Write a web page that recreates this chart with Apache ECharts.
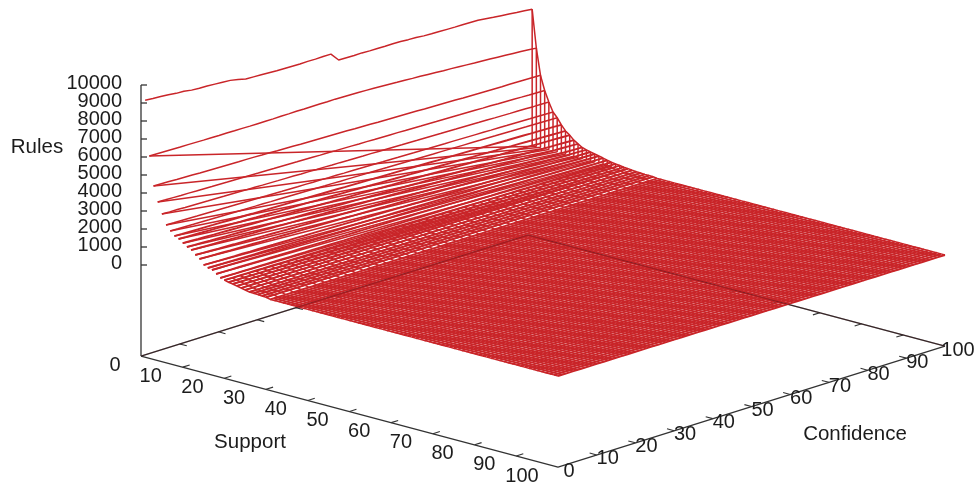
<!DOCTYPE html>
<html>
<head>
<meta charset="utf-8">
<style>html,body{margin:0;padding:0;background:#fff}#chart{width:976px;height:485px}</style>
<script src="https://cdn.jsdelivr.net/npm/echarts@6/dist/echarts.min.js"></script>
</head>
<body>
<div id="chart"></div>
<script>
var supports = [1,2,3,4,5,6,7,8,9,10,11,12,13,14,15,16,17,18,19,20,21,22,23,24,25,26,27,28,29,30,31,32,33,34,35,36,37,38,39,40,41,42,43,44,45,46,47,48,49,50,
  51,52,53,54,55,56,57,58,59,60,61,62,63,64,65,66,67,68,69,70,71,72,73,74,75,76,77,78,79,80,81,82,83,84,85,86,87,88,89,90,91,92,93,94,95,96,97,98,99,100];
var confidences = [0,2,4,6,8,10,12,14,16,18,20,22,24,26,28,30,32,34,36,38,40,42,44,46,48,50,52,54,56,58,60,62,64,66,68,70,72,74,76,78,80,82,84,86,88,90,92,94,96,98,100];
// in-between confidences, only drawn where the surface is flat at 0 rules
var flatConfidences = [1,3,5,7,9,11,13,15,17,19,21,23,25,27,29,31,33,35,37,39,41,43,45,47,49,51,53,55,57,59,61,63,65,67,69,71,73,75,77,79,81,83,85,87,89,91,93,95,97,99];
var zTicks = [0,1000,2000,3000,4000,5000,6000,7000,8000,9000,10000];
var supportTicks = [0,10,20,30,40,50,60,70,80,90,100];
var confidenceTicks = [0,10,20,30,40,50,60,70,80,90,100];
// supports that also show the straight line back down to 0 rules at confidence 100
var dropSupports = [2,3,4,5,6,7,8,9,10,11,12,13,14,15,16,17,18,19,20,21,22,23,24,25,26,27,28,29,30];
var meshFromSupport = 20;

// rules per support (row) and confidence (column).
// above support 30 the surface cannot be told apart from 0
var rules = [
[9220,9180,9150,9120,9060,9040,8970,8940,8930,8900, 8870,8840,8760,8650,8630,8610,8590,8570,8560,8550, 8540,8550,8540,8550,8550,8090,8080,8070,8080,8060, 8060,8050,8050,8040,8010,7990,7950,7930,7920,7910, 7900,7900,7890,7880,7830,7770,7730,7690,7640,7600, 7550],
[6180,6170,6160,6150,6140,6140,6130,6120,6120,6110, 6110,6100,6100,6090,6090,6090,6090,6100,6100,6110, 6100,6110,6110,6100,6110,6100,6090,6080,6060,6040, 6020,6000,5970,5950,5920,5900,5870,5840,5810,5790, 5760,5730,5700,5680,5650,5620,5590,5560,5530,5490, 5450],
[4570,4560,4550,4530,4520,4510,4490,4480,4470,4460, 4450,4440,4440,4430,4410,4400,4380,4370,4360,4340, 4330,4320,4310,4300,4290,4280,4260,4250,4240,4220, 4210,4200,4190,4180,4170,4150,4140,4130,4120,4110, 4090,4080,4070,4060,4050,4040,4040,4030,4020,4010, 4000],
[3745,3732,3722,3708,3702,3688,3680,3668,3662,3648, 3640,3628,3622,3608,3600,3588,3580,3572,3558,3550, 3542,3528,3522,3508,3500,3490,3478,3472,3458,3450, 3440,3432,3418,3410,3400,3392,3378,3370,3362,3348, 3340,3330,3316,3308,3292,3282,3272,3254,3242,3232, 3220],
[3140,3125,3118,3100,3092,3080,3068,3062,3048,3040, 3030,3018,3012,2998,2990,2978,2970,2962,2948,2940, 2930,2922,2910,2902,2890,2882,2870,2865,2850,2842, 2832,2822,2815,2800,2792,2782,2772,2765,2752,2742, 2732,2722,2715,2702,2692,2682,2675,2665,2652,2648, 2640],
[2590,2578,2572,2560,2550,2544,2532,2525,2512,2506, 2498,2488,2480,2470,2465,2452,2445,2434,2428,2418, 2410,2400,2394,2382,2376,2366,2358,2350,2340,2332, 2322,2316,2304,2298,2288,2280,2270,2262,2254,2244, 2236,2228,2218,2212,2200,2194,2184,2176,2170,2160, 2150],
[2320,2310,2304,2292,2285,2275,2268,2258,2250,2240, 2234,2224,2216,2206,2200,2190,2182,2174,2165,2158, 2148,2142,2130,2124,2114,2106,2098,2090,2080,2072, 2064,2056,2048,2040,2030,2024,2014,2006,1998,1990, 1980,1974,1964,1956,1946,1940,1930,1922,1912,1902, 1890],
[2100,2088,2080,2066,2058,2046,2036,2026,2014,2006, 1994,1984,1972,1964,1950,1942,1930,1920,1910,1898, 1888,1878,1866,1856,1846,1834,1824,1814,1802,1792, 1782,1770,1760,1750,1738,1728,1716,1708,1696,1684, 1674,1664,1654,1642,1632,1622,1610,1600,1590,1576, 1560],
[2000,1984,1972,1956,1942,1930,1914,1900,1884,1872, 1856,1842,1830,1812,1800,1784,1770,1758,1740,1728, 1712,1698,1686,1668,1656,1640,1626,1612,1596,1584, 1568,1554,1542,1524,1512,1496,1482,1470,1452,1440, 1424,1410,1398,1380,1368,1352,1338,1324,1310,1296, 1280],
[1830,1816,1800,1788,1770,1758,1742,1728,1716,1698, 1686,1670,1656,1644,1626,1614,1598,1584,1572,1554, 1542,1526,1512,1500,1482,1470,1454,1440,1428,1410, 1398,1382,1368,1356,1338,1326,1310,1296,1284,1266, 1254,1238,1224,1212,1194,1182,1166,1152,1140,1124, 1110],
[1680,1662,1650,1632,1618,1600,1586,1570,1552,1540, 1522,1508,1490,1476,1458,1444,1428,1410,1398,1380, 1366,1348,1334,1316,1302,1286,1268,1256,1238,1224, 1206,1192,1174,1160,1144,1126,1114,1096,1082,1064, 1050,1032,1018,1002,984,972,954,940,922,908, 890],
[1570,1552,1538,1520,1506,1488,1472,1456,1438,1424, 1406,1392,1374,1358,1342,1324,1310,1292,1278,1260, 1244,1228,1210,1196,1178,1164,1146,1130,1114,1096, 1082,1064,1050,1032,1016,1000,982,968,950,936, 918,902,886,868,854,836,822,804,788,770, 750],
[1355,1340,1326,1310,1296,1280,1266,1250,1236,1220, 1206,1192,1176,1162,1146,1132,1116,1102,1086,1072, 1058,1042,1028,1012,998,982,968,952,938,922, 908,894,878,864,848,834,818,804,788,774, 760,744,730,714,700,684,670,654,640,626, 610],
[1195,1182,1168,1156,1142,1130,1116,1104,1090,1078, 1064,1052,1038,1026,1012,1000,986,974,960,948, 934,922,908,896,882,870,856,844,830,818, 804,792,778,766,752,740,726,714,700,688, 674,662,648,636,622,610,596,584,570,556, 540],
[920,912,902,894,884,876,866,858,850,840, 832,822,814,804,796,788,778,770,760,752, 744,734,726,716,708,700,690,682,672,664, 656,646,638,628,620,612,602,594,584,576, 568,558,550,540,532,524,514,506,496,488, 480],
[820,812,804,798,790,782,774,766,758,750, 744,736,728,720,712,704,696,688,680,674, 666,658,650,642,634,626,618,610,604,596, 588,580,572,564,556,548,540,534,526,518, 510,502,494,486,478,470,464,456,448,440, 430],
[770,762,754,748,740,732,724,716,708,700, 694,686,678,670,662,654,646,638,630,624, 616,608,600,592,584,576,568,560,554,546, 538,530,522,514,506,498,490,484,476,468, 460,452,444,436,428,420,414,406,398,390, 380],
[610,604,598,594,588,582,576,570,564,560, 554,548,542,536,530,526,520,514,508,502, 498,492,486,480,474,470,464,458,452,446, 442,436,430,424,418,414,408,402,396,390, 386,380,374,368,362,358,352,346,340,336, 330],
[450,446,442,440,436,432,428,424,422,418, 414,410,408,404,400,396,392,390,386,382, 378,374,372,368,364,360,358,354,350,346, 342,340,336,332,328,324,322,318,314,310, 306,304,300,296,292,288,286,282,278,274, 270],
[390,386,384,380,376,372,370,366,362,360, 356,352,350,346,342,340,336,332,330,326, 322,320,316,312,310,306,302,300,296,292, 288,286,282,278,276,272,268,266,262,258, 256,252,248,246,242,238,234,232,228,224, 220],
[335,332,330,326,324,320,318,314,312,308, 306,302,300,296,294,290,288,286,282,280, 276,274,270,268,264,262,258,256,252,250, 248,244,242,238,236,232,230,226,224,220, 218,214,212,210,206,204,200,198,194,192, 190],
[300,298,294,292,288,286,284,280,278,274, 272,270,266,264,260,258,256,252,250,246, 244,242,238,236,232,230,228,224,222,218, 216,214,210,208,204,202,200,196,194,190, 188,186,182,180,176,174,172,168,166,162, 160],
[250,248,246,242,240,238,236,232,230,228, 226,222,220,218,216,214,210,208,206,204, 200,198,196,194,190,188,186,184,182,178, 176,174,172,168,166,164,162,158,156,154, 152,150,146,144,142,140,138,136,134,132, 130],
[200,198,196,194,192,190,190,188,186,184, 182,180,178,176,174,172,172,170,168,166, 164,162,160,158,156,155,154,152,150,148, 146,144,142,140,138,137,136,134,132,130, 128,126,124,122,120,119,118,116,114,112, 110],
[155,154,152,150,149,148,146,144,143,142, 140,138,137,136,134,132,131,130,128,126, 125,124,122,120,119,118,116,114,113,112, 110,108,107,106,104,102,101,100,98,96, 95,94,92,90,89,88,86,84,83,82, 80],
[105,104,103,102,101,100,100,99,98,97, 96,95,94,93,92,91,91,90,89,88, 87,86,85,84,83,82,82,81,80,79, 78,77,76,75,74,73,73,72,71,70, 69,68,67,66,65,64,64,63,62,61, 60],
[95,94,93,92,91,90,90,89,88,87, 86,85,84,83,82,81,81,80,79,78, 77,76,75,74,73,72,72,71,70,69, 68,67,66,65,64,63,63,62,61,60, 59,58,57,56,55,54,54,53,52,51, 50],
[85,84,83,82,81,80,80,79,78,77, 76,75,74,73,72,71,71,70,69,68, 67,66,65,64,63,62,62,61,60,59, 58,57,56,55,54,53,53,52,51,50, 49,48,47,46,45,44,44,43,42,41, 40],
[70,69,69,68,67,66,66,65,64,64, 63,62,61,61,60,59,59,58,57,56, 56,55,54,54,53,52,51,51,50,49, 49,48,47,46,46,45,44,44,43,42, 41,41,40,39,39,38,37,36,36,35, 35],
[60,59,59,58,58,57,56,56,55,55, 54,53,53,52,52,51,50,50,49,49, 48,47,47,46,46,45,44,44,43,43, 42,41,41,40,40,39,38,38,37,37, 36,35,35,34,34,33,32,32,31,31, 30]
];

var myChart = echarts.init(document.getElementById('chart'));

// gnuplot style view: screen position of a (support, confidence, rules) point
var zBase = -5056;
function project(s, c, z) {
  return [141 + 4.17 * s + 3.87 * c, 265 + 1.11 * s - 1.21 * c - 0.018 * z];
}
function rulesAt(i, j) {
  return rules[i] ? rules[i][j] : 0;
}

var meshColor = '#c92529';
var meshWidth = 1.5;
var axisColor = '#333';
var series = [];

function addLine(points, color, width, z) {
  series.push({
    type: 'line',
    data: points,
    showSymbol: false,
    silent: true,
    animation: false,
    z: z,
    lineStyle: {color: color, width: width}
  });
}

// base frame and rules axis
addLine([project(0, 0, zBase), project(100, 0, zBase), project(100, 100, zBase)], axisColor, 1.3, 1);
addLine([project(0, 0, zBase), project(0, 100, zBase), project(100, 100, zBase)], axisColor, 1.3, 1);
addLine([project(0, 0, 10000), project(0, 0, zBase)], axisColor, 1.3, 1);
zTicks.forEach(function (t) {
  var p = project(0, 0, t);
  addLine([p, [p[0] + 6, p[1]]], axisColor, 1.3, 1);
});
supportTicks.slice(1, 10).forEach(function (t) {
  addLine([project(t, 0, zBase), project(t, 1.8, zBase)], axisColor, 1.1, 1);
  addLine([project(t, 100, zBase), project(t, 98.2, zBase)], axisColor, 1.1, 1);
});
confidenceTicks.slice(1, 10).forEach(function (t) {
  addLine([project(100, t, zBase), project(98.3, t, zBase)], axisColor, 1.1, 1);
  addLine([project(0, t, zBase), project(1.7, t, zBase)], axisColor, 1.1, 1);
});

// rows of the surface, heavier where they bunch together
supports.forEach(function (s, i) {
  addLine(confidences.map(function (c, j) {
    return project(s, c, rulesAt(i, j));
  }), meshColor, s >= 8 ? 1.9 : meshWidth, 2);
});
// drop at confidence 100 and the straight line back to the start of the row
dropSupports.forEach(function (s) {
  var i = supports.indexOf(s);
  addLine([
    project(s, 100, rules[i][confidences.length - 1]),
    project(s, 100, 0),
    project(s, 0, rules[i][0])
  ], meshColor, meshWidth, 2);
});
addLine([project(1, 100, rules[0][confidences.length - 1]), project(1, 100, 0)], meshColor, meshWidth, 2);
// cross lines, the last column runs over all supports
confidences.forEach(function (c, j) {
  var pts = [];
  supports.forEach(function (s, i) {
    if (s >= meshFromSupport || j === confidences.length - 1) {
      pts.push(project(s, c, rulesAt(i, j)));
    }
  });
  addLine(pts, meshColor, meshWidth, 2);
});
flatConfidences.forEach(function (c) {
  addLine([project(rules.length + 1, c, 0), project(100, c, 0)], meshColor, meshWidth, 2);
});
// the back of the frame shows through the mesh
addLine([project(0, 0, zBase), project(0, 100, zBase), project(100, 100, zBase)], 'rgba(70,10,15,0.3)', 1.3, 3);

// texts
function addTexts(items, size) {
  series.push({
    type: 'scatter',
    symbolSize: 0,
    silent: true,
    animation: false,
    z: 5,
    data: items,
    itemStyle: {opacity: 1},
    label: {
      show: true,
      position: 'inside',
      formatter: '{b}',
      color: '#1c1c1c',
      opacity: 1,
      fontFamily: 'Liberation Sans',
      fontSize: size
    }
  });
}
function moved(p, dx, dy) {
  return [p[0] + dx, p[1] + dy];
}
addTexts(zTicks.map(function (t) {
  return {name: String(t), value: moved(project(0, 0, t), -19, -1.5), label: {align: 'right'}};
}), 20);
addTexts(supportTicks.map(function (t) {
  return {name: String(t), value: moved(project(t, 0, zBase), t === 0 ? -26 : (t === 100 ? -36 : -32), 9)};
}), 20);
addTexts(confidenceTicks.map(function (t) {
  return {name: String(t), value: moved(project(100, t, zBase), t === 100 ? 13 : 11, 4)};
}), 20);
addTexts([
  {name: 'Rules', value: [37, 147]},
  {name: 'Support', value: [250, 442]},
  {name: 'Confidence', value: [855, 434]}
], 20.5);

var option = {
  backgroundColor: '#fff',
  animation: false,
  grid: {left: 0, right: 0, top: 0, bottom: 0},
  xAxis: {type: 'value', min: 0, max: 976, show: false},
  yAxis: {type: 'value', min: 0, max: 485, inverse: true, show: false},
  series: series
};
myChart.setOption(option);
</script>
</body>
</html>
